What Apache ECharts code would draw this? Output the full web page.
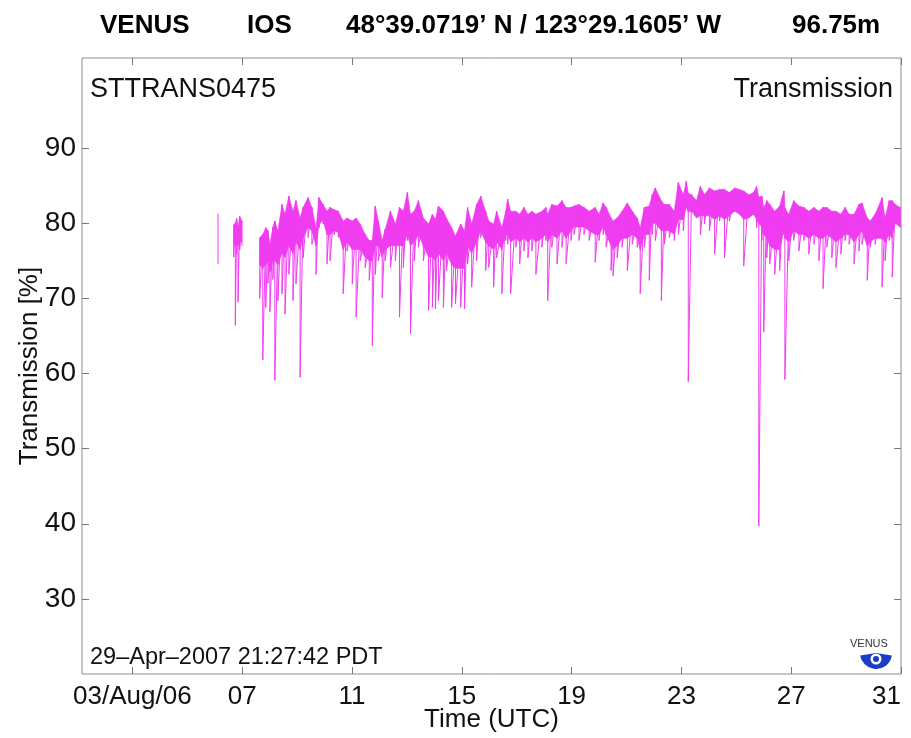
<!DOCTYPE html>
<html lang="en">
<head>
    <meta charset="UTF-8">
    <title>STTRANS0475 Transmission</title>
    <script src="https://cdn.jsdelivr.net/npm/echarts@6/dist/echarts.min.js"></script>
    <style>
        html, body { margin: 0; padding: 0; background: #fff; }
        #chart { width: 911px; height: 738px; }
    </style>
</head>
<body>
<div id="chart"></div>
<script>
    // days of August 2006 (UTC, decimal)
    var days = [6.12,
        6.69, 6.75, 6.80, 6.85, 6.91, 6.99,
        7.64, 7.75, 7.86, 7.94, 8.01, 8.12, 8.19, 8.30, 8.45, 8.56, 8.70, 8.85, 8.96, 9.11,
        9.22, 9.40, 9.54, 9.69, 9.80, 9.95, 10.09, 10.20, 10.35, 10.50, 10.68, 10.82, 11.01, 11.15,
        11.30, 11.48, 11.63, 11.74, 11.85, 11.96, 12.10, 12.21, 12.40, 12.58, 12.73, 12.87, 13.02,
        13.13, 13.27, 13.42, 13.60, 13.79, 13.93, 14.04, 14.15, 14.33, 14.44, 14.63, 14.77, 14.96,
        15.10, 15.21, 15.36, 15.54, 15.69, 15.87, 15.98, 16.16, 16.27, 16.46, 16.60, 16.67, 16.78,
        16.97, 17.11, 17.26, 17.41, 17.55, 17.70, 17.92, 18.06, 18.13, 18.28, 18.47, 18.65, 18.80,
        18.98, 19.09, 19.27, 19.45, 19.64, 19.86, 20.00, 20.15, 20.26, 20.44, 20.51, 20.66, 20.84,
        21.03, 21.21, 21.39, 21.50, 21.65, 21.83, 21.94, 22.05, 22.27, 22.38, 22.56, 22.74, 22.89,
        23.07, 23.18, 23.25, 23.37, 23.55, 23.69, 23.84, 24.02, 24.21, 24.39, 24.57, 24.75, 24.94,
        25.12, 25.27, 25.45, 25.63, 25.74, 25.82, 25.93, 26.00, 26.11, 26.22, 26.40, 26.58, 26.73,
        26.77, 26.91, 27.09, 27.28, 27.46, 27.64, 27.83, 28.01, 28.16, 28.30, 28.48, 28.63, 28.81,
        28.96, 29.11, 29.29, 29.47, 29.58, 29.77, 29.88, 30.06, 30.31, 30.42, 30.57, 30.68, 30.79, 30.97];
    // highest reading in each slot (%)
    var hi = [81.3,
        79.8, 80.0, 80.6, 79.5, 80.9, 80.3,
        78.1, 78.5, 79.4, 79.0, 77.2, 79.5, 80.3, 79.0, 82.5, 81.2, 83.6, 81.6, 83.0, 80.7,
        82.1, 83.4, 82.1, 79.4, 83.4, 82.5, 81.6, 82.1, 81.8, 81.6, 80.3, 80.7, 80.3, 80.7,
        79.9, 78.5, 77.7, 77.7, 82.3, 80.3, 77.7, 79.2, 81.6, 79.9, 82.1, 81.6, 84.1,
        81.2, 81.6, 83.0, 80.7, 79.9, 81.2, 80.5, 82.3, 81.6, 80.7, 79.4, 78.3, 79.9,
        79.0, 82.1, 79.9, 82.5, 83.6, 81.6, 80.3, 79.9, 81.6, 79.4, 81.6, 83.2, 81.6,
        81.6, 81.2, 82.1, 81.2, 81.6, 81.2, 81.6, 82.1, 81.2, 82.5, 82.3, 83.0, 82.1,
        82.1, 82.3, 82.5, 82.1, 81.6, 82.1, 81.2, 82.7, 82.1, 80.7, 80.3, 80.7, 81.6,
        82.7, 81.6, 80.7, 79.4, 82.1, 82.3, 83.8, 84.7, 83.0, 82.5, 82.5, 81.6, 85.4,
        83.8, 85.6, 84.0, 83.8, 83.0, 84.9, 83.8, 84.7, 84.3, 84.5, 84.5, 84.1, 84.7,
        84.5, 84.3, 83.8, 84.1, 84.9, 83.5, 83.6, 82.0, 83.0, 82.5, 81.6, 82.3, 84.3,
        82.0, 81.2, 83.0, 82.3, 82.1, 81.6, 82.1, 81.6, 82.1, 82.1, 81.6, 81.6, 81.2,
        82.1, 81.2, 81.2, 82.5, 82.7, 80.7, 80.3, 81.2, 83.4, 80.7, 83.0, 83.0, 82.5, 82.1];
    // lowest reading in each slot (%)
    var lo = [74.6,
        75.5, 66.4, 76.0, 69.5, 76.5, 77.0,
        70.0, 61.8, 68.8, 72.0, 68.2, 72.5, 59.1, 69.7, 70.6, 67.9, 73.2, 69.7, 71.9, 59.5,
        75.4, 78.1, 77.2, 73.2, 79.4, 79.9, 74.6, 75.0, 78.5, 78.1, 70.6, 76.3, 71.9, 67.5,
        75.0, 74.1, 72.4, 63.7, 73.2, 75.0, 70.1, 75.0, 74.1, 75.0, 67.5, 74.1, 77.7,
        65.3, 75.0, 76.8, 75.0, 68.4, 68.8, 68.6, 69.7, 68.8, 73.7, 68.8, 69.3, 68.8,
        68.6, 74.6, 71.5, 75.0, 78.1, 73.7, 74.1, 71.5, 75.4, 70.6, 77.7, 77.2, 70.6,
        76.8, 74.6, 76.3, 75.4, 76.3, 73.2, 76.8, 77.7, 69.7, 76.8, 74.6, 76.8, 74.6,
        77.7, 78.5, 77.7, 78.5, 77.7, 74.8, 77.7, 78.5, 76.8, 73.7, 73.0, 75.4, 76.8,
        73.7, 77.2, 76.8, 70.6, 76.8, 72.4, 78.5, 77.7, 69.7, 77.2, 78.1, 77.7, 78.5,
        79.0, 82.1, 58.9, 81.6, 80.7, 78.5, 79.9, 79.0, 75.9, 80.3, 75.4, 80.3, 81.6,
        81.2, 74.3, 80.7, 81.2, 79.4, 39.7, 77.7, 65.5, 75.4, 74.6, 73.2, 73.7, 78.5,
        59.2, 75.0, 77.7, 76.3, 77.7, 75.9, 77.2, 75.0, 71.3, 76.8, 75.4, 74.1, 75.9,
        77.7, 77.2, 74.6, 76.3, 77.2, 72.4, 76.8, 77.2, 71.5, 75.0, 77.7, 72.8, 79.9, 79.4];
    // lower edge of the dense core of the trace in each slot (%)
    var core = [77.0,
        77.5, 77.0, 77.5, 77.0, 77.5, 77.5,
        74.5, 74.0, 74.5, 75.0, 73.5, 75.0, 75.0, 74.5, 76.0, 75.5, 77.0, 76.0, 77.5, 76.5,
        78.0, 79.5, 79.0, 77.0, 80.0, 80.3, 78.5, 78.5, 79.0, 78.8, 76.5, 77.5, 76.5, 76.5,
        76.5, 75.5, 75.0, 75.0, 77.0, 77.0, 75.5, 76.5, 77.0, 77.0, 77.0, 77.0, 78.5,
        77.0, 77.5, 78.5, 77.0, 75.5, 75.5, 75.0, 76.0, 75.0, 76.0, 74.5, 74.0, 74.0,
        74.0, 77.0, 76.0, 77.5, 79.0, 77.5, 77.0, 76.5, 77.5, 76.5, 78.5, 78.5, 77.5,
        78.0, 77.5, 78.0, 77.5, 78.0, 77.5, 78.0, 78.5, 77.5, 78.5, 78.0, 79.0, 78.0,
        79.0, 79.5, 79.5, 79.5, 79.0, 78.5, 78.5, 79.5, 78.5, 77.0, 76.5, 77.0, 78.0,
        78.0, 78.5, 78.0, 76.5, 78.5, 78.5, 80.0, 80.0, 79.0, 79.0, 79.0, 78.5, 80.5,
        80.5, 82.1, 81.5, 81.6, 80.7, 81.0, 81.0, 81.0, 80.5, 81.0, 80.5, 81.0, 81.6,
        81.2, 80.5, 80.7, 81.2, 80.5, 80.0, 79.5, 78.5, 78.0, 77.0, 76.5, 76.5, 79.0,
        78.0, 77.5, 79.0, 78.5, 78.5, 78.0, 78.5, 78.0, 78.0, 78.5, 78.0, 77.5, 78.0,
        78.5, 78.5, 77.5, 78.5, 79.0, 77.0, 77.5, 78.0, 78.0, 77.5, 78.5, 78.0, 80.0, 79.5];
    // index where each recorded stretch begins (gaps in between)
    var segStarts = [0, 1, 7];

    var xTicks = [3, 7, 11, 15, 19, 23, 27, 31];
    var yTicks = [30, 40, 50, 60, 70, 80, 90];

    var FONT = "'Liberation Sans', Arial, Helvetica, sans-serif";
    var LINE = '#f03cf0';

    function segEnd(s) {
        return s + 1 < segStarts.length ? segStarts[s + 1] : days.length;
    }

    // zig-zag trace: top then bottom of each slot
    function buildLines() {
        var out = [];
        for (var s = 0; s < segStarts.length; s++) {
            var pts = [];
            for (var i = segStarts[s]; i < segEnd(s); i++) {
                pts.push([days[i], hi[i]]);
                pts.push([days[i], lo[i]]);
            }
            out.push({
                type: 'line',
                data: pts,
                showSymbol: false,
                symbol: 'none',
                lineStyle: { color: LINE, width: 1 },
                itemStyle: { color: LINE },
                z: 4
            });
        }
        return out;
    }

    // solid core band between neighbouring slots of the same stretch
    function buildBand() {
        var rows = [];
        for (var s = 0; s < segStarts.length; s++) {
            for (var i = segStarts[s]; i < segEnd(s) - 1; i++) {
                rows.push([days[i], hi[i], core[i], i]);
            }
        }
        return {
            type: 'custom',
            data: rows,
            encode: { x: 0, y: [1, 2] },
            z: 3,
            renderItem: function (params, api) {
                var i = api.value(3);
                var pts = [
                    api.coord([days[i], hi[i]]),
                    api.coord([days[i + 1], hi[i + 1]]),
                    api.coord([days[i + 1], core[i + 1]]),
                    api.coord([days[i], core[i]])
                ];
                return {
                    type: 'polygon',
                    shape: { points: pts },
                    style: { fill: LINE, stroke: LINE, lineWidth: 0.6 }
                };
            }
        };
    }

    function xLabel(v) {
        if (v === 3) return '03/Aug/06';
        return (v < 10 ? '0' : '') + v;
    }

    var chart = echarts.init(document.getElementById('chart'));
    var option = {
        animation: false,
        backgroundColor: '#fff',
        grid: {
            left: 82, right: 10, top: 58, bottom: 64,
            containLabel: false,
            outerBoundsMode: 'none',
            show: true, borderColor: '#8c8c8c', borderWidth: 1
        },
        xAxis: [{
            type: 'value',
            min: 1.165,
            max: 31,
            position: 'bottom',
            name: 'Time (UTC)',
            nameLocation: 'middle',
            nameGap: 33,
            nameMoveOverlap: false,
            nameTextStyle: { color: '#111', fontSize: 26, fontFamily: FONT },
            axisLine: { show: false },
            splitLine: { show: false },
            axisTick: { inside: true, length: 7, lineStyle: { color: '#777' }, customValues: xTicks },
            axisLabel: {
                color: '#111', fontSize: 26, fontFamily: FONT, margin: 10,
                customValues: xTicks, formatter: xLabel, alignMaxLabel: 'right'
            }
        }, {
            type: 'value',
            min: 1.165,
            max: 31,
            position: 'top',
            axisLine: { show: false },
            splitLine: { show: false },
            axisTick: { inside: true, length: 7, lineStyle: { color: '#777' }, customValues: xTicks },
            axisLabel: { show: false }
        }],
        yAxis: [{
            type: 'value',
            min: 20,
            max: 102,
            position: 'left',
            name: 'Transmission [%]',
            nameLocation: 'middle',
            nameGap: 39,
            nameMoveOverlap: false,
            nameRotate: 90,
            nameTextStyle: { color: '#111', fontSize: 26, fontFamily: FONT },
            axisLine: { show: false },
            splitLine: { show: false },
            axisTick: { inside: true, length: 7, lineStyle: { color: '#777' }, customValues: yTicks },
            axisLabel: { color: '#111', fontSize: 28, fontFamily: FONT, margin: 6, customValues: yTicks }
        }, {
            type: 'value',
            min: 20,
            max: 102,
            position: 'right',
            axisLine: { show: false },
            splitLine: { show: false },
            axisTick: { inside: true, length: 7, lineStyle: { color: '#777' }, customValues: yTicks },
            axisLabel: { show: false }
        }],
        graphic: [
            { type: 'text', left: 100, top: 13, style: { text: 'VENUS', font: 'bold 26px ' + FONT, fill: '#000' } },
            { type: 'text', left: 247, top: 13, style: { text: 'IOS', font: 'bold 26px ' + FONT, fill: '#000' } },
            { type: 'text', left: 346, top: 13, style: { text: '48\u00b039.0719\u2019 N / 123\u00b029.1605\u2019 W', font: 'bold 26px ' + FONT, fill: '#000' } },
            { type: 'text', left: 792, top: 13, style: { text: '96.75m', font: 'bold 26px ' + FONT, fill: '#000' } },
            { type: 'text', left: 90, top: 76, style: { text: 'STTRANS0475', font: '27px ' + FONT, fill: '#111' } },
            { type: 'text', right: 18, top: 76, style: { text: 'Transmission', font: '27px ' + FONT, fill: '#111' } },
            { type: 'text', left: 90, top: 646, style: { text: '29\u2013Apr\u20132007 21:27:42 PDT', font: '23.5px ' + FONT, fill: '#111' } },
            { type: 'text', left: 850, top: 638, style: { text: 'VENUS', font: '11px ' + FONT, fill: '#333' } },
            { type: 'sector', shape: { cx: 876, cy: 653, r0: 0, r: 16, startAngle: 0.15, endAngle: Math.PI - 0.15 }, style: { fill: '#1a3cc8' } },
            { type: 'circle', shape: { cx: 876, cy: 659, r: 5.5 }, style: { fill: '#fff' } },
            { type: 'circle', shape: { cx: 876, cy: 659, r: 3 }, style: { fill: '#1a3cc8' } }
        ],
        series: [buildBand()].concat(buildLines())
    };
    chart.setOption(option);
</script>
</body>
</html>
